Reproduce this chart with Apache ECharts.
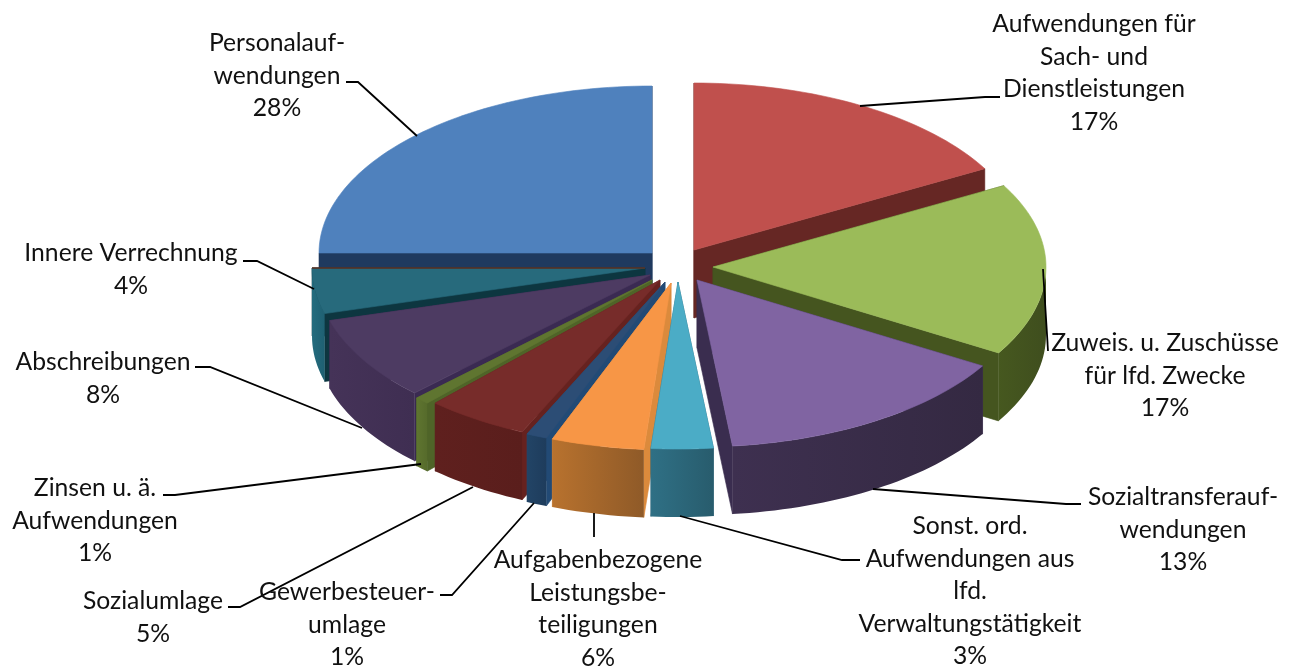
<!DOCTYPE html>
<html>
<head>
<meta charset="utf-8">
<style>html,body{margin:0;padding:0;background:#fff}#c{width:1297px;height:668px}</style>
<script src="https://cdn.jsdelivr.net/npm/echarts@6/dist/echarts.min.js"></script>
</head>
<body>
<div id="c"></div>
<script>
// Data
const categories = [
  'Aufwendungen für\nSach- und\nDienstleistungen',
  'Zuweis. u. Zuschüsse\nfür lfd. Zwecke',
  'Sozialtransferauf-\nwendungen',
  'Sonst. ord.\nAufwendungen aus\nlfd.\nVerwaltungstätigkeit',
  'Aufgabenbezogene\nLeistungsbe-\nteiligungen',
  'Gewerbesteuer-\numlage',
  'Sozialumlage',
  'Zinsen u. ä.\nAufwendungen',
  'Abschreibungen',
  'Innere Verrechnung',
  'Personalauf-\nwendungen'
];
const shareLabels = ['17%','17%','13%','3%','6%','1%','5%','1%','8%','4%','28%'];
// slice sizes as they appear in the drawn pie (percent of the full turn)
const sliceValues = [16.9,16.7,14.7,3.0,4.5,1.0,5.0,0.7,8.1,4.4,25.0];

// Styles and layout
const topColors    = ['#C0504D','#9BBB59','#8064A2','#4BACC6','#F79646','#2C4D75','#772C2A','#5F7530','#4D3B62','#276A7C','#4F81BD'];
const wallColors   = [['#632523','#632523'],['#46581F','#3F4E1E'],['#3E3050','#342942'],['#2F7085','#285C6D'],['#B8722E','#8F5A28'],['#224466','#1E3C5C'],['#5F201E','#5A1E1C'],['#5F7530','#566B2B'],['#453358','#3F2E52'],['#246C7E','#1F6072'],['#1F3A5F','#1F3A5F']];
const radialColors = ['#662724','#45551F','#3A2D4F','#2A6074','#DB8A3C','#224A75','#66221F','#4F6428','#3A2A52','#0D3640','#1F3A5F'];
const explode = [[22,-16],[41,1],[25,14],[6,16],[-1,17],[-7,16],[-12,14],[-20,14],[-22,9],[-27,2],[-20,-13]];
const paintOrder = [10,0,9,1,8,2,7,6,5,4,3];
const labelAnchors = [[1094,8],[1165,327],[1183,481],[970,510],[598,544],[347,576],[153,585],[95,472],[103,346],[131,237],[277,27]];
const leaders = [
  [[860,106],[985,97],[1000,97]],
  [[1043,269],[1048,351]],
  [[873,489],[1066,504],[1081,504]],
  [[680,516],[842,560],[860,560]],
  [[594,513],[594,537]],
  [[534,503],[452,595],[440,595]],
  [[473,487],[240,607],[228,607]],
  [[421,464],[175,495],[163,495]],
  [[362,428],[210,367],[195,367]],
  [[314,289],[257,261],[243,261]],
  [[417,136],[358,82],[346,82]]
];
const accentEdgeSlice = 9, accentEdgeColor = '#5A2E1E';
const center = [672,266], rx = 333, ry = 167, depth = 68;
const total = sliceValues.reduce((a,b)=>a+b,0);
const FONT = '24.7px Lato, Carlito, "Noto Sans", sans-serif';

function arcPoints(c, a0, a1, dy) {
  const pts = [], n = Math.max(2, Math.ceil((a1 - a0) / 1.5));
  for (let i = 0; i <= n; i++) {
    const a = (a0 + (a1 - a0) * i / n) * Math.PI / 180;
    pts.push([c[0] + rx * Math.sin(a), c[1] - ry * Math.cos(a) + dy]);
  }
  return pts;
}
function poly(points, fill, z2) {
  return {type:'polygon', z2, shape:{points},
          style:{fill, stroke: typeof fill === 'string' ? fill : null, lineWidth: typeof fill === 'string' ? 0.6 : 0},
          silent:true};
}
function renderSlice(params, api) {
  const i = api.value(0);
  let start = 0;
  for (let k = 0; k < i; k++) start += sliceValues[k];
  const a0 = start / total * 360, a1 = (start + api.value(1)) / total * 360;
  const c = [center[0] + explode[i][0], center[1] + explode[i][1]];
  const z = paintOrder.indexOf(i) * 10 + 1;
  const children = [];
  const top = arcPoints(c, a0, a1, 0);
  const first = top[0], last = top[top.length - 1];
  // radial faces
  [first, last].forEach(p => {
    children.push(poly([c, p, [p[0], p[1] + depth], [c[0], c[1] + depth]], radialColors[i], z));
  });
  // outer rim that faces the viewer
  const w0 = Math.max(a0, 90), w1 = Math.min(a1, 270);
  if (w1 > w0) {
    const upper = arcPoints(c, w0, w1, 0), lower = arcPoints(c, w0, w1, depth).reverse();
    const grad = new echarts.graphic.LinearGradient(0,0,1,0,[
      {offset:0,color:wallColors[i][0]},{offset:1,color:wallColors[i][1]}]);
    children.push(poly(upper.concat(lower), grad, z + 1));
  }
  // top face
  children.push(poly([c].concat(top), topColors[i], z + 2));
  if (i === accentEdgeSlice) {
    children.push({type:'polyline', z2:z + 3, silent:true, shape:{points:[c, last]},
      style:{stroke:accentEdgeColor, lineWidth:1.5, fill:null}});
  }
  // leader and label
  children.push({type:'polyline', z2:500, silent:true, shape:{points:leaders[i]},
    style:{stroke:'#000', lineWidth:1.8, fill:null}});
  children.push({type:'text', z2:600, silent:true,
    style:{text:categories[i] + '\n' + shareLabels[i], x:labelAnchors[i][0], y:labelAnchors[i][1],
      align:'center', verticalAlign:'top', font:FONT, lineHeight:32.5, fill:'#111'}});
  return {type:'group', children};
}
const chart = echarts.init(document.getElementById('c'), null, {renderer:'canvas'});
chart.setOption({
  animation:false,
  backgroundColor:'#fff',
  series:[{
    type:'custom',
    coordinateSystem:'none',
    renderItem:renderSlice,
    data:sliceValues.map((v,i)=>({name:categories[i],value:[i,v]}))
  }]
});
</script>
</body>
</html>
